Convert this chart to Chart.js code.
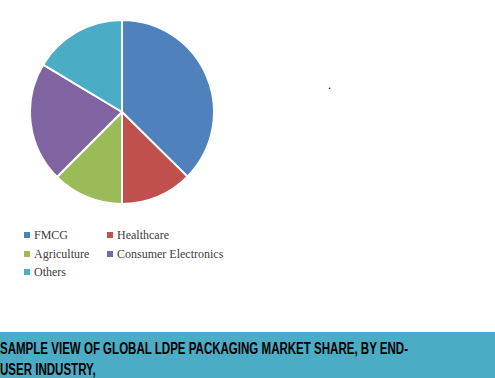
<!DOCTYPE html>
<html>
<head>
<meta charset="utf-8">
<script src="https://cdn.jsdelivr.net/npm/chart.js@4"></script>
<style>
  html, body { margin: 0; padding: 0; background: #fff; }
  body { width: 495px; height: 378px; position: relative; overflow: hidden; }
  #pieBox { position: absolute; left: 29px; top: 19px; width: 186px; height: 186px; }
  #legend { position: absolute; left: 24px; top: 226px; font-family: "Liberation Serif", serif; font-size: 12px; color: #404040; }
  .item { position: absolute; white-space: nowrap; height: 18px; line-height: 18px; }
  .item i { display: inline-block; width: 6px; height: 6px; margin-right: 4px; vertical-align: 1px; }
  #dot { position: absolute; left: 328px; top: 78px; font-family: "Liberation Serif", serif; font-size: 12px; color: #000; }
  #banner { position: absolute; left: 0; top: 332px; width: 495px; height: 46px; background: #4bacc6; overflow: hidden; }
  .line { position: absolute; left: 0; font-family: "Liberation Sans", Arial, sans-serif; font-weight: bold; font-size: 16px; line-height: 21px; color: #000; white-space: nowrap; transform-origin: 0 0; }
</style>
</head>
<body>
<div id="pieBox"><canvas id="pie"></canvas></div>
<div id="legend"></div>
<div id="dot">.</div>
<div id="banner">
  <div class="line" style="top:6px">SAMPLE VIEW OF GLOBAL LDPE PACKAGING MARKET SHARE, BY END-</div>
  <div class="line" style="top:27px">USER INDUSTRY,</div>
</div>
<script>
// segment names and shares (%)
const categories = ["FMCG", "Healthcare", "Agriculture", "Consumer Electronics", "Others"];
const shares = [37.4, 12.6, 12.5, 21.1, 16.4];
const colors = ["#4f81bd", "#c0504d", "#9bbb59", "#8064a2", "#4bacc6"];

// legend laid out as a two column grid like the original
const legendEl = document.getElementById("legend");
categories.forEach((name, i) => {
    const el = document.createElement("div");
    el.className = "item";
    el.style.left = (i % 2 === 0 ? 0 : 83) + "px";
    el.style.top = (Math.floor(i / 2) * 18.5) + "px";
    el.innerHTML = '<i style="background:' + colors[i] + '"></i>' + name;
    legendEl.appendChild(el);
});

// the title font is condensed in the original, squeeze the first line to ~408px
const lines = document.querySelectorAll(".line");
const sx = 408 / lines[0].getBoundingClientRect().width;
lines.forEach(l => { l.style.transform = "scaleX(" + sx + ")"; });

new Chart(document.getElementById("pie"), {
    type: "pie",
    data: {
        labels: categories,
        datasets: [{
            data: shares,
            backgroundColor: colors,
            borderColor: "#ffffff",
            borderWidth: 2
        }]
    },
    options: {
        responsive: true,
        maintainAspectRatio: false,
        animation: false,
        layout: { padding: 0 },
        plugins: {
            legend: { display: false },
            tooltip: { enabled: false }
        }
    }
});
</script>
</body>
</html>
